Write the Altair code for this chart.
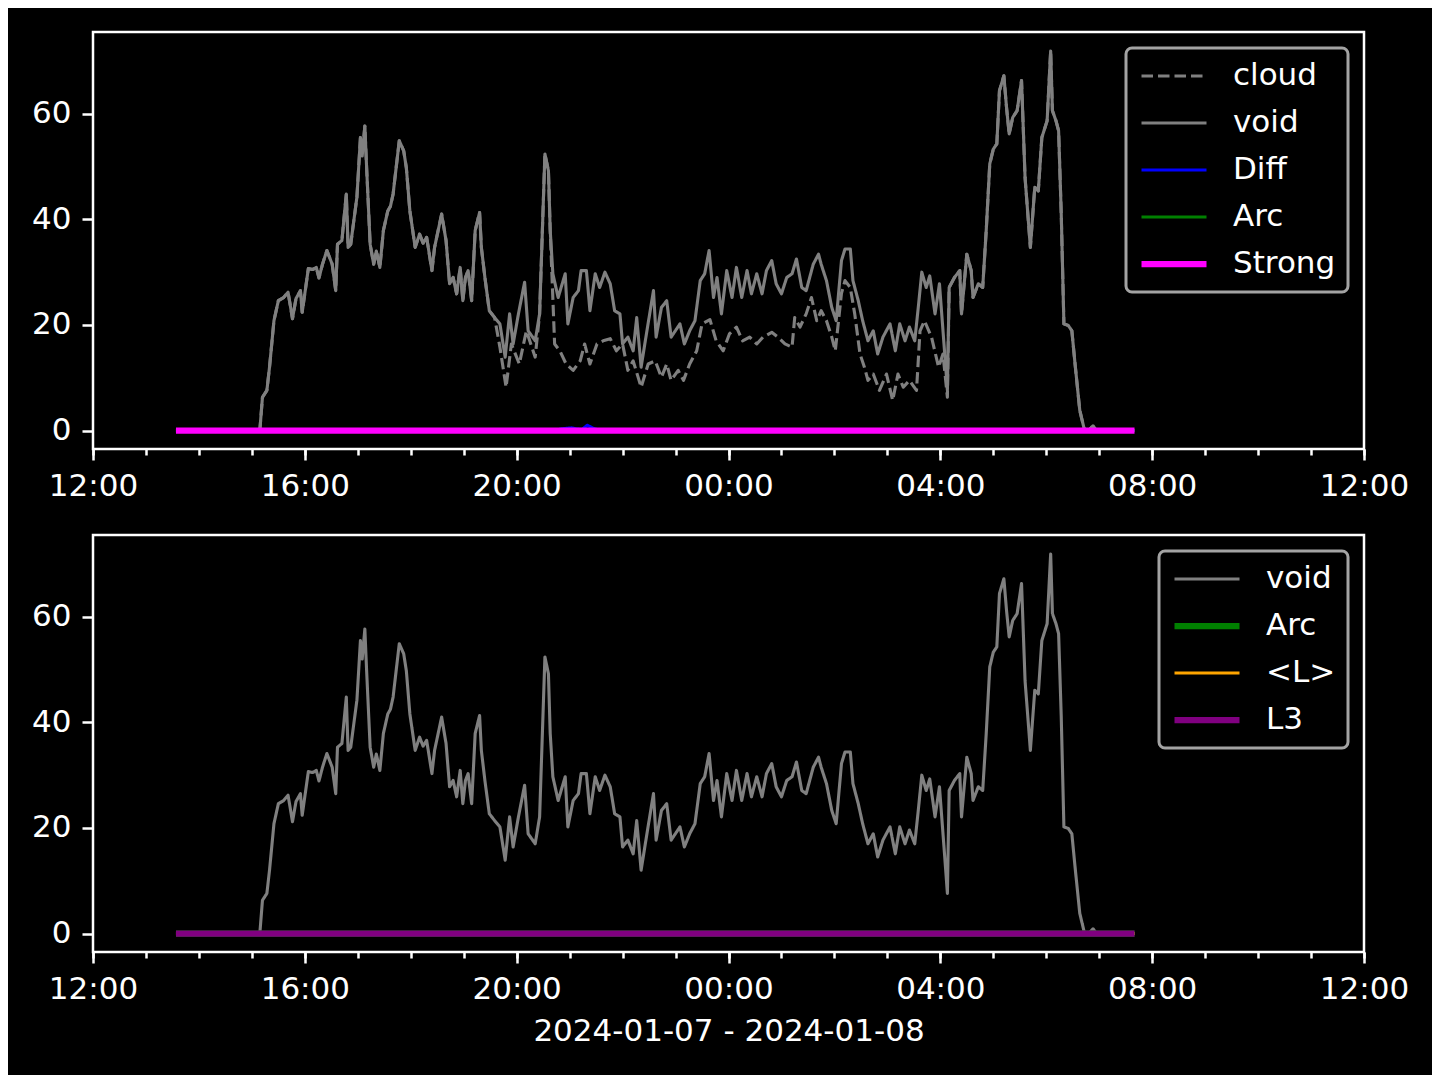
import altair as alt
import pandas as pd

# ---------------- data ----------------
void_times = [
    "13:34", "15:09", "15:12", "15:17", "15:20", "15:25", "15:30", "15:36", "15:41", "15:46",
    "15:50", "15:55", "15:57", "16:04", "16:09", "16:13", "16:16", "16:20", "16:25", "16:31",
    "16:35", "16:37", "16:42", "16:47", "16:49", "16:52", "16:59", "17:03", "17:05", "17:08",
    "17:10", "17:14", "17:18", "17:21", "17:25", "17:29", "17:34", "17:37", "17:40", "17:47",
    "17:52", "17:55", "17:59", "18:05", "18:10", "18:14", "18:18", "18:24", "18:27", "18:35",
    "18:40", "18:44", "18:48", "18:52", "18:56", "18:59", "19:02", "19:05", "19:09", "19:13",
    "19:18", "19:20", "19:24", "19:29", "19:35", "19:41", "19:47", "19:52", "19:56", "20:02",
    "20:09", "20:13", "20:21", "20:26", "20:32", "20:36", "20:38", "20:41", "20:47", "20:55",
    "20:58", "21:04", "21:10", "21:13", "21:19", "21:23", "21:29", "21:34", "21:40", "21:46",
    "21:51", "21:57", "22:00", "22:06", "22:12", "22:16", "22:21", "22:27", "22:35", "22:38",
    "22:44", "22:50", "22:55", "23:05", "23:10", "23:16", "23:22", "23:28", "23:33", "23:38",
    "23:43", "23:47", "23:52", "23:58", "00:04", "00:09", "00:15", "00:21", "00:26", "00:32",
    "00:38", "00:43", "00:49", "00:54", "01:00", "01:06", "01:12", "01:17", "01:23", "01:28",
    "01:36", "01:42", "01:45", "01:51", "01:57", "02:02", "02:08", "02:12", "02:18", "02:21",
    "02:27", "02:32", "02:38", "02:44", "02:49", "02:55", "03:03", "03:09", "03:14", "03:20",
    "03:25", "03:31", "03:35", "03:39", "03:44", "03:48", "03:54", "03:59", "04:05", "04:08",
    "04:10", "04:16", "04:22", "04:24", "04:30", "04:35", "04:37", "04:43", "04:48", "04:52",
    "04:56", "05:00", "05:04", "05:07", "05:12", "05:15", "05:18", "05:22", "05:27", "05:32",
    "05:36", "05:42", "05:47", "05:51", "05:55", "06:01", "06:05", "06:07", "06:11", "06:14",
    "06:17", "06:20", "06:25", "06:29", "06:33", "06:38", "06:43", "06:48", "06:53", "06:57",
    "07:40",
]
void_values = [
    0, 0, 6.3, 7.6, 12, 20.8, 24.6, 25.2, 26.2, 21.2,
    25, 26.5, 22.4, 30.7, 30.5, 30.9, 28.9, 31.5, 34.1, 31.5,
    26.5, 35.3, 36, 44.8, 34.7, 35.3, 44.2, 55.5, 52, 57.7,
    49.8, 35.3, 31.5, 34, 30.9, 37.9, 41.6, 42.5, 44.8, 54.9,
    53, 49.8, 41.6, 34.7, 37.2, 35.5, 36.6, 30.3, 34.7, 41,
    36, 27.8, 29, 25.9, 30.9, 24.6, 29, 30.3, 24.6, 37.9,
    41.3, 34.7, 29, 22.7, 21.4, 20.2, 13.9, 22.1, 16.4, 22.1,
    28.1, 18.9, 17, 22.1, 52.4, 49.2, 37.9, 29.7, 25.2, 29.7,
    20.2, 25.2, 26.5, 30.3, 30.3, 22.7, 29.7, 27.1, 30, 27.8,
    22.7, 22.1, 16.4, 17.7, 15.1, 21.4, 12, 18.3, 26.5, 17.7,
    23.3, 24.6, 17.7, 20.2, 16.4, 18.9, 20.8, 28.4, 29.7, 34.1,
    25.2, 29, 22.1, 30.3, 25.2, 30.9, 25.2, 30.3, 25.9, 29.7,
    25.9, 30.3, 32.2, 27.8, 25.9, 29, 29.7, 32.5, 27.1, 26.5,
    31.5, 33.4, 31.5, 28.4, 23.3, 20.8, 32.2, 34.4, 34.4, 28.4,
    24.6, 20.8, 17, 18.9, 14.5, 17.7, 20.2, 15.1, 20.2, 17,
    19.6, 17, 23.3, 30, 27.1, 29.3, 22.1, 27.8, 14.5, 7.6,
    27.1, 29, 30.3, 22.1, 33.4, 30.3, 25.2, 27.8, 27.1, 37.9,
    50.5, 53.3, 54.3, 64.4, 67.2, 61.2, 56.2, 59.3, 60.6, 66.3,
    47.9, 34.7, 46.1, 45.4, 55.5, 58.7, 71.9, 60.6, 58.7, 56.8,
    41, 20.2, 19.9, 18.9, 12, 3.8, 0.3, 0, 0.9, 0,
    0,
]

# cloud differs from void only between 19:35 and 04:10
cloud_times = [
    "19:41", "19:48", "19:54", "20:03", "20:11", "20:21", "20:26", "20:32", "20:36", "20:38",
    "20:41", "20:43", "20:49", "20:56", "21:04", "21:12", "21:17", "21:23", "21:31", "21:38",
    "21:46", "21:53", "22:00", "22:06", "22:12", "22:21", "22:29", "22:37", "22:44", "22:50",
    "22:55", "23:03", "23:09", "23:16", "23:24", "23:30", "23:39", "23:46", "23:54", "00:01",
    "00:09", "00:16", "00:24", "00:32", "00:39", "00:49", "00:56", "01:04", "01:12", "01:15",
    "01:21", "01:28", "01:34", "01:40", "01:45", "01:51", "01:57", "02:01", "02:08", "02:12",
    "02:18", "02:23", "02:29", "02:34", "02:38", "02:44", "02:51", "02:59", "03:06", "03:12",
    "03:18", "03:25", "03:33", "03:37", "03:42", "03:50", "03:58", "04:03", "04:08",
]
cloud_values = [
    15.8, 8.2, 16.4, 12.6, 18.9, 13.9, 22.1, 52.4, 49.2, 37.9,
    25, 16.4, 15.1, 12.6, 11.4, 13.2, 16.4, 12.6, 16.4, 17,
    17.4, 15.1, 16.4, 11.4, 13.2, 8.2, 12.6, 13.2, 10.1, 12.6,
    9.5, 11.4, 9.5, 12.6, 15.1, 20.2, 21, 17, 15.1, 18.3,
    19.6, 17, 17.7, 16.4, 17.7, 18.6, 17.7, 16.4, 15.8, 21.4,
    19.6, 22.1, 25.2, 20.8, 22.7, 20.8, 17.7, 15.1, 26, 28.4,
    27.1, 22.1, 14.5, 12, 9.5, 10.7, 7.6, 10.7, 5.7, 10.7,
    8.2, 9.5, 7.6, 18.9, 20.8, 17.7, 12, 14.5, 6.3,
]

diff_times = ["13:34", "20:45", "20:50", "20:56", "21:02", "21:08", "21:14", "21:20", "21:26", "21:32", "21:36", "07:40"]
diff_values = [0, 0, 0.3, 0.4, 0.5, 0.3, 0.2, 1.0, 0.5, 0.1, 0, 0]

flat_times = ["13:34", "07:40"]
flat_values = [0, 0]

top_series = ["cloud", "void", "Diff", "Arc", "Strong"]
top_colors = ["#808080", "#808080", "#0000ff", "#008000", "#ff00ff"]
top_widths = [3.1, 3.1, 3.1, 3.1, 6.25]
top_dashes = [[11.5, 5], [1, 0], [1, 0], [1, 0], [1, 0]]

bottom_series = ["void", "Arc", "<L>", "L3"]
bottom_colors = ["#808080", "#008000", "#ffa500", "#800080"]
bottom_widths = [3.1, 6.25, 3.1, 6.25]
bottom_dashes = [[1, 0], [1, 0], [1, 0], [1, 0]]

y_ticks = [0, 20, 40, 60]
x_title = "2024-01-07 - 2024-01-08"


def to_ts(hm):
    h, m = map(int, hm.split(":"))
    day = 7 if h >= 12 else 8
    return pd.Timestamp(2024, 1, day, h, m)


def rows(name, times, values):
    return [{"t": to_ts(t), "v": v, "series": name} for t, v in zip(times, values)]


void_rows = rows("void", void_times, void_values)
c_start, c_end = to_ts("19:35"), to_ts("04:10")
cloud_rows = [dict(r, series="cloud") for r in void_rows if r["t"] <= c_start or r["t"] >= c_end]
cloud_rows += rows("cloud", cloud_times, cloud_values)
cloud_rows.sort(key=lambda r: r["t"])

top_df = pd.DataFrame(
    cloud_rows + void_rows + rows("Diff", diff_times, diff_values)
    + rows("Arc", flat_times, flat_values) + rows("Strong", flat_times, flat_values)
)
bottom_df = pd.DataFrame(
    void_rows + rows("Arc", flat_times, flat_values)
    + rows("<L>", flat_times, flat_values) + rows("L3", flat_times, flat_values)
)
for d in (top_df, bottom_df):
    d["t"] = d["t"].dt.strftime("%Y-%m-%dT%H:%M:%S")


def dt(day, h):
    return alt.DateTime(year=2024, month=1, date=day, hours=h)


x_domain = [dt(7, 12), dt(8, 12)]
major_vals = [dt(7, 12), dt(7, 16), dt(7, 20), dt(8, 0), dt(8, 4), dt(8, 8), dt(8, 12)]
minor_vals = [dt(7, h) for h in range(12, 24)] + [dt(8, h) for h in range(0, 13)]

W, H = 1271, 417


def panel(df, series, colors, widths, dashes, title):
    legend = alt.Legend(
        title=None, orient="top-right", offset=16, symbolType="stroke",
        symbolSize=4225, labelOffset=23, rowPadding=15, clipHeight=32,
        padding=12, labelLimit=400,
    )
    color = alt.Color("series:N", scale=alt.Scale(domain=series, range=colors), legend=legend)
    dash = alt.StrokeDash("series:N", scale=alt.Scale(domain=series, range=dashes), legend=legend)
    width = alt.StrokeWidth("series:N", scale=alt.Scale(type="ordinal", domain=series, range=widths), legend=legend)
    y = alt.Y(
        "v:Q",
        scale=alt.Scale(domain=[-3.5, 75.5], nice=False, zero=False),
        axis=alt.Axis(values=y_ticks, tickSize=11, labelPadding=11, grid=False, domain=False, title=None),
    )
    xscale = alt.Scale(domain=x_domain, nice=False)
    minor_axis = alt.Axis(values=minor_vals, labels=False, tickSize=6, domain=False, grid=False,
                          orient="bottom", title=None)
    major_kwargs = dict(values=major_vals, format="%H:%M", formatType="time", tickSize=11,
                        labelPadding=11, domain=False, grid=False, orient="bottom",
                        labelFlush=False, labelOverlap=False, labelBound=False)
    if title:
        major_axis = alt.Axis(title=title, titlePadding=12, **major_kwargs)
    else:
        major_axis = alt.Axis(title=None, **major_kwargs)
    layers = []
    for i, s in enumerate(series):
        if i == 0:
            ax = minor_axis
        elif i == 1:
            ax = major_axis
        else:
            ax = None
        x = alt.X("t:T", scale=xscale, axis=ax)
        layers.append(
            alt.Chart(df)
            .transform_filter(alt.datum.series == s)
            .mark_line(strokeJoin="round")
            .encode(x=x, y=y, color=color, strokeDash=dash, strokeWidth=width)
        )
    return alt.layer(*layers).resolve_axis(x="independent").properties(width=W, height=H)


top = panel(top_df, top_series, top_colors, top_widths, top_dashes, None)
bottom = panel(bottom_df, bottom_series, bottom_colors, bottom_widths, bottom_dashes, x_title)

chart = (
    alt.vconcat(top, bottom, spacing=86, bounds="flush")
    .resolve_scale(color="independent", strokeDash="independent", strokeWidth="independent")
    .resolve_legend(color="independent", strokeDash="independent", strokeWidth="independent")
    .properties(padding={"left": 22, "top": 22, "right": 22, "bottom": 27}, background="black")
    .configure(font="DejaVu Sans")
    .configure_view(stroke="white", strokeWidth=2.5, fill="black")
    .configure_axis(
        labelColor="white", labelFont="DejaVu Sans", labelFontSize=31, tickColor="white",
        tickWidth=2.5, titleColor="white", titleFont="DejaVu Sans", titleFontSize=31,
        titleFontWeight="normal",
    )
    .configure_legend(
        fillColor="black", strokeColor="#a3a3a3", strokeWidth=3, cornerRadius=6,
        labelColor="white", labelFont="DejaVu Sans", labelFontSize=31,
    )
)

chart.save("out.html", embed_options={"renderer": "svg", "actions": False})
